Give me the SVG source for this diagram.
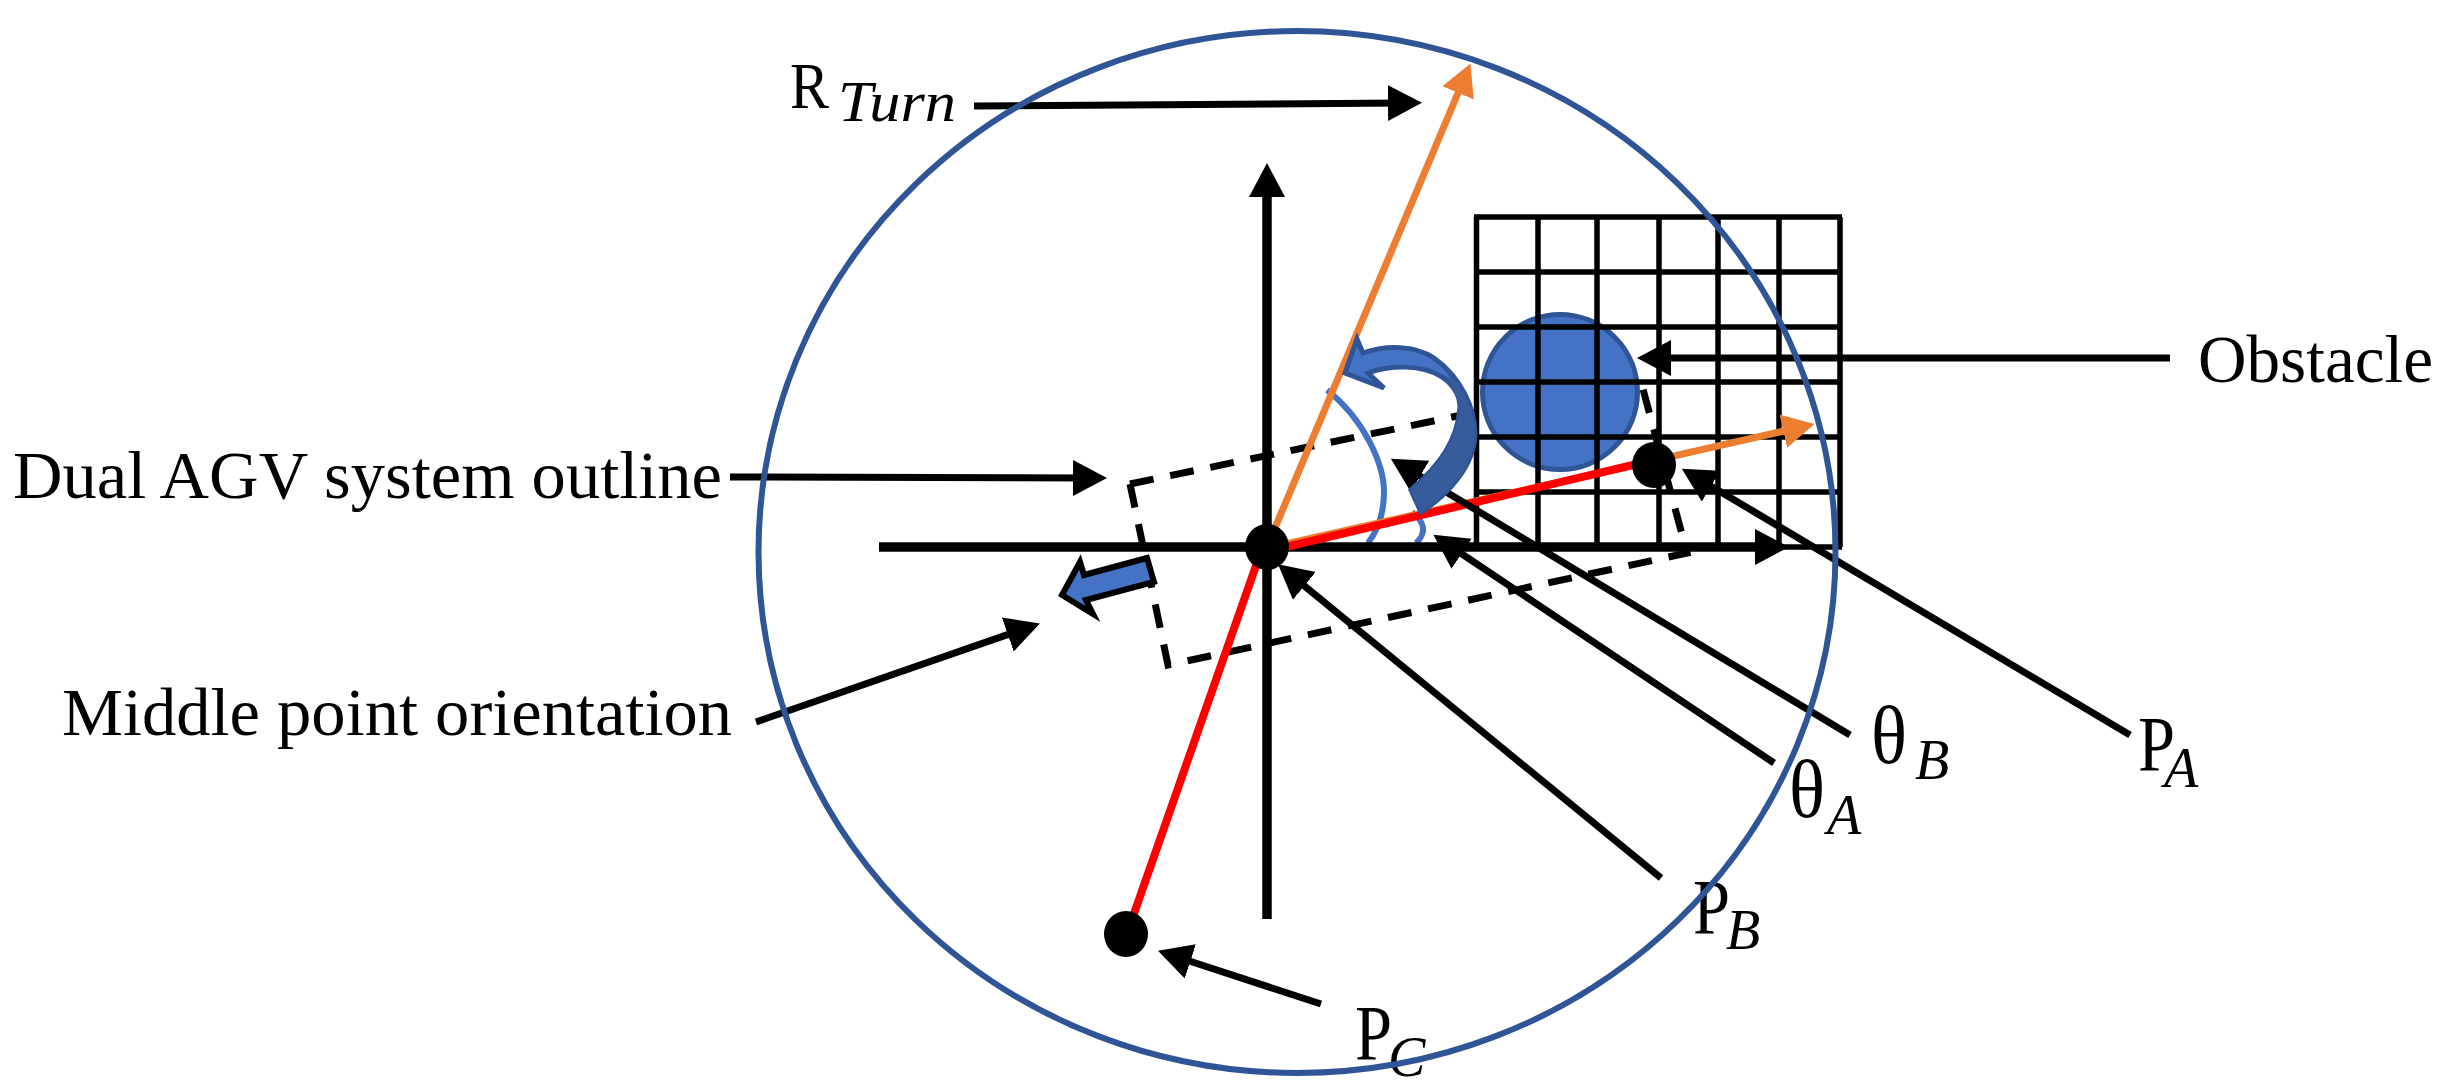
<svg xmlns="http://www.w3.org/2000/svg" width="2444" height="1092" viewBox="0 0 2444 1092">
<style>
text{font-family:"Liberation Serif","Times New Roman",serif;fill:#000}
.lb{font-size:68px}
.p{font-size:78px}
.th{font-size:82px}
.sub{font-size:56px;font-style:italic}
.cn{fill:none;stroke:#000;stroke-width:7;marker-end:url(#ah)}
.ax{fill:none;stroke:#000;stroke-width:9.500;marker-end:url(#ah)}
.or{fill:none;stroke:#ED7D31;stroke-width:7;marker-end:url(#oh)}
.rd{fill:none;stroke:#FF0000;stroke-width:8}
.dot{fill:#000}
.arc{fill:none;stroke:#4472C4;stroke-width:6}
.grid{fill:none;stroke:#000;stroke-width:5.500}
</style>
<defs>
<marker id="ah" markerUnits="userSpaceOnUse" markerWidth="36" markerHeight="38" refX="14" refY="18" orient="auto"><path d="M0,0L34,18L0,36Z" fill="#000"/></marker>
<marker id="oh" markerUnits="userSpaceOnUse" markerWidth="34" markerHeight="36" refX="14" refY="17" orient="auto"><path d="M0,0L32,17L0,34Z" fill="#ED7D31"/></marker>
</defs>
<rect width="2444" height="1092" fill="#fff"/>
<g id="outline"><path d="M1130,484L1168,665L1687,553L1640,378L1130,484" fill="none" stroke="#000" stroke-width="7" stroke-dasharray="24 17"/></g>
<g id="obstacle"><circle cx="1560" cy="392" r="77.500" fill="#4472C4" stroke="#2F5597" stroke-width="5"/></g>
<g id="grid"><path class="grid" d="M1476.500,217V547M1538,217V547M1597,217V547M1659,217V547M1718,217V547M1779,217V547M1840,217V547M1474,217H1842M1474,272H1842M1474,327H1842M1474,382H1842M1474,437H1842M1474,492H1842M1474,547H1842"/></g>
<g id="angles"><path class="arc" d="M1327,390C1365,420 1384,465 1384,492C1384,512 1378,530 1368,543"/><path class="arc" d="M1412,512Q1432,528 1416,543"/></g>
<g id="axes"><path class="ax" d="M879,547H1769"/><path class="ax" d="M1267,919V183"/></g>
<g id="radius-lines"><path class="or" d="M1272,535L1463.500,80"/><path class="or" d="M1286,544L1797,428"/><path class="rd" d="M1286,547L1633,465"/><path class="rd" d="M1258,560L1130,925"/></g>
<g id="connectors">
<path class="cn" d="M974,106L1402,103"/>
<path class="cn" d="M730,477L1087,478"/>
<path class="cn" d="M756,722L1021,630"/>
<path class="cn" d="M2170,358H1657"/>
<path class="cn" d="M2130,735L1699,479"/>
<path class="cn" d="M1850,735L1408,469"/>
<path class="cn" d="M1774,763L1450,546"/>
<path class="cn" d="M1661,878L1293.500,577"/>
<path class="cn" d="M1321,1004L1177,957"/>
</g>
<g id="turn-arrow"><path d="M1411,490C1440,465 1458,440 1460,407C1460,395 1452,383 1442,377C1422,364 1390,365 1368,373L1384,388L1345,373L1357,339L1363,353C1385,345 1415,345 1434,358C1462,378 1475,410 1475,433C1475,465 1448,495 1421,512Z" fill="#4472C4" stroke="#2F5597" stroke-width="5"/><path d="M1411,490C1440,465 1458,440 1460,407L1447,372C1462,385 1475,410 1475,433C1475,465 1448,495 1421,512Z" fill="#375C9C"/></g>
<g id="heading-arrow"><path d="M1147,558L1154,582L1086,600L1093,614L1062,595L1080,562L1084,575Z" fill="#4472C4" stroke="#000" stroke-width="6"/></g>
<g id="point-o"><ellipse class="dot" cx="1267" cy="547" rx="22" ry="23"/></g>
<g id="point-a"><ellipse class="dot" cx="1654" cy="465" rx="22" ry="23"/></g>
<g id="point-c"><ellipse class="dot" cx="1126" cy="934" rx="22" ry="23"/></g>
<g id="labels">
<text id="label-dual" class="lb" x="13" y="498" textLength="709" lengthAdjust="spacingAndGlyphs">Dual AGV system outline</text>
<text id="label-mid" class="lb" x="62" y="735" textLength="670" lengthAdjust="spacingAndGlyphs">Middle point orientation</text>
<text id="label-obstacle" class="lb" x="2198" y="382" textLength="235" lengthAdjust="spacingAndGlyphs">Obstacle</text>
<text id="label-rturn"><tspan style="font-size:66px" x="790" y="108" textLength="39" lengthAdjust="spacingAndGlyphs">R</tspan><tspan class="sub" x="838" y="121" textLength="118" lengthAdjust="spacingAndGlyphs">Turn</tspan></text>
<text id="label-pa"><tspan class="p" x="2138" y="770" textLength="37" lengthAdjust="spacingAndGlyphs">P</tspan><tspan class="sub" x="2164" y="787">A</tspan></text>
<text id="label-pb"><tspan class="p" x="1693" y="933" textLength="37" lengthAdjust="spacingAndGlyphs">P</tspan><tspan class="sub" x="1726" y="949">B</tspan></text>
<text id="label-pc"><tspan class="p" x="1355" y="1059" textLength="37" lengthAdjust="spacingAndGlyphs">P</tspan><tspan class="sub" x="1388" y="1076">C</tspan></text>
<text id="label-tb"><tspan class="th" x="1871" y="763" textLength="36" lengthAdjust="spacingAndGlyphs">θ</tspan><tspan class="sub" x="1915" y="779">B</tspan></text>
<text id="label-ta"><tspan class="th" x="1789" y="817" textLength="36" lengthAdjust="spacingAndGlyphs">θ</tspan><tspan class="sub" x="1827" y="834">A</tspan></text>
</g>
<g id="turning-circle"><ellipse cx="1297" cy="552" rx="538.500" ry="521" fill="none" stroke="#2F5597" stroke-width="6"/></g>
</svg>
